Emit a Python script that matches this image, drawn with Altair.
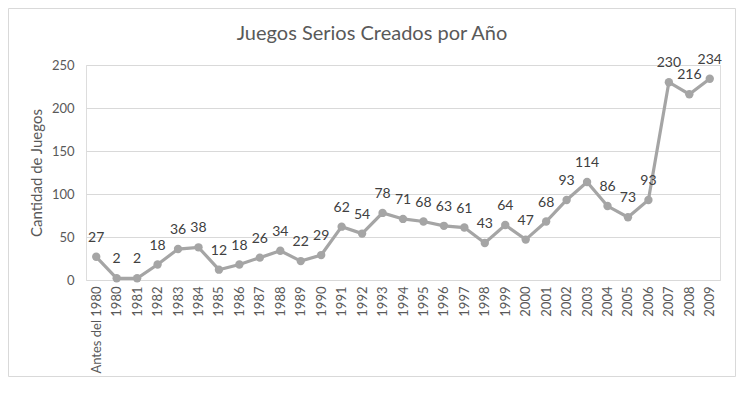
import altair as alt
import pandas as pd

categories = ["Antes del 1980"] + [str(y) for y in range(1980, 2010)]
values = [27, 2, 2, 18, 36, 38, 12, 18, 26, 34, 22, 29, 62, 54, 78, 71, 68, 63, 61,
          43, 64, 47, 68, 93, 114, 86, 73, 93, 230, 216, 234]
title_text = "Juegos Serios Creados por Año"

df = pd.DataFrame({"cat": categories, "val": values})

FONT = "Lato"
W, H = 634, 215

x = alt.X("cat:N", sort=categories, title=None,
          axis=alt.Axis(labelAngle=-90, labelAlign="right", labelBaseline="middle",
                        labelPadding=6, ticks=False, domain=False, labelFontSize=13,
                        labelColor="#595959", labelFont=FONT))
y = alt.Y("val:Q", title="Cantidad de Juegos",
          scale=alt.Scale(domain=[0, 250], nice=False),
          axis=alt.Axis(values=[0, 50, 100, 150, 200, 250], ticks=False, domain=False,
                        gridColor="#d9d9d9", gridWidth=1, labelPadding=12,
                        labelFontSize=13, labelColor="#595959", labelFont=FONT,
                        titleFontSize=15, titleFontWeight="normal", titleColor="#595959",
                        titleFont=FONT, titlePadding=7))

base = alt.Chart(df)

frame = alt.Chart(pd.DataFrame({"a": [0]})).mark_rect(
    fill=None, stroke="#d9d9d9", strokeWidth=1, clip=False
).encode(x=alt.value(-77.5), x2=alt.value(W + 15.5), y=alt.value(-56.5), y2=alt.value(H + 96.5))

title = alt.Chart(pd.DataFrame({"t": [title_text]})).mark_text(
    fontSize=20, font=FONT, color="#595959", align="center", baseline="alphabetic"
).encode(x=alt.value(286), y=alt.value(-25), text="t:N")

line = base.mark_line(color="#a5a5a5", strokeWidth=3.2).encode(x=x, y=y)
pts = base.mark_circle(color="#a5a5a5", size=70, opacity=1).encode(x=x, y=y)
labels = base.mark_text(baseline="middle", dy=-19, fontSize=14, color="#404040",
                        font=FONT).encode(x=x, y=y, text="val:Q")

chart = alt.layer(frame, title, line, pts, labels).properties(
    width=W, height=H,
    autosize=alt.AutoSizeParams(type="none"),
    padding={"left": 78, "top": 57, "right": 16, "bottom": 105},
).configure_view(stroke=None).configure(background="white")

chart.save("out.html", embed_options={"renderer": "svg", "actions": False})
